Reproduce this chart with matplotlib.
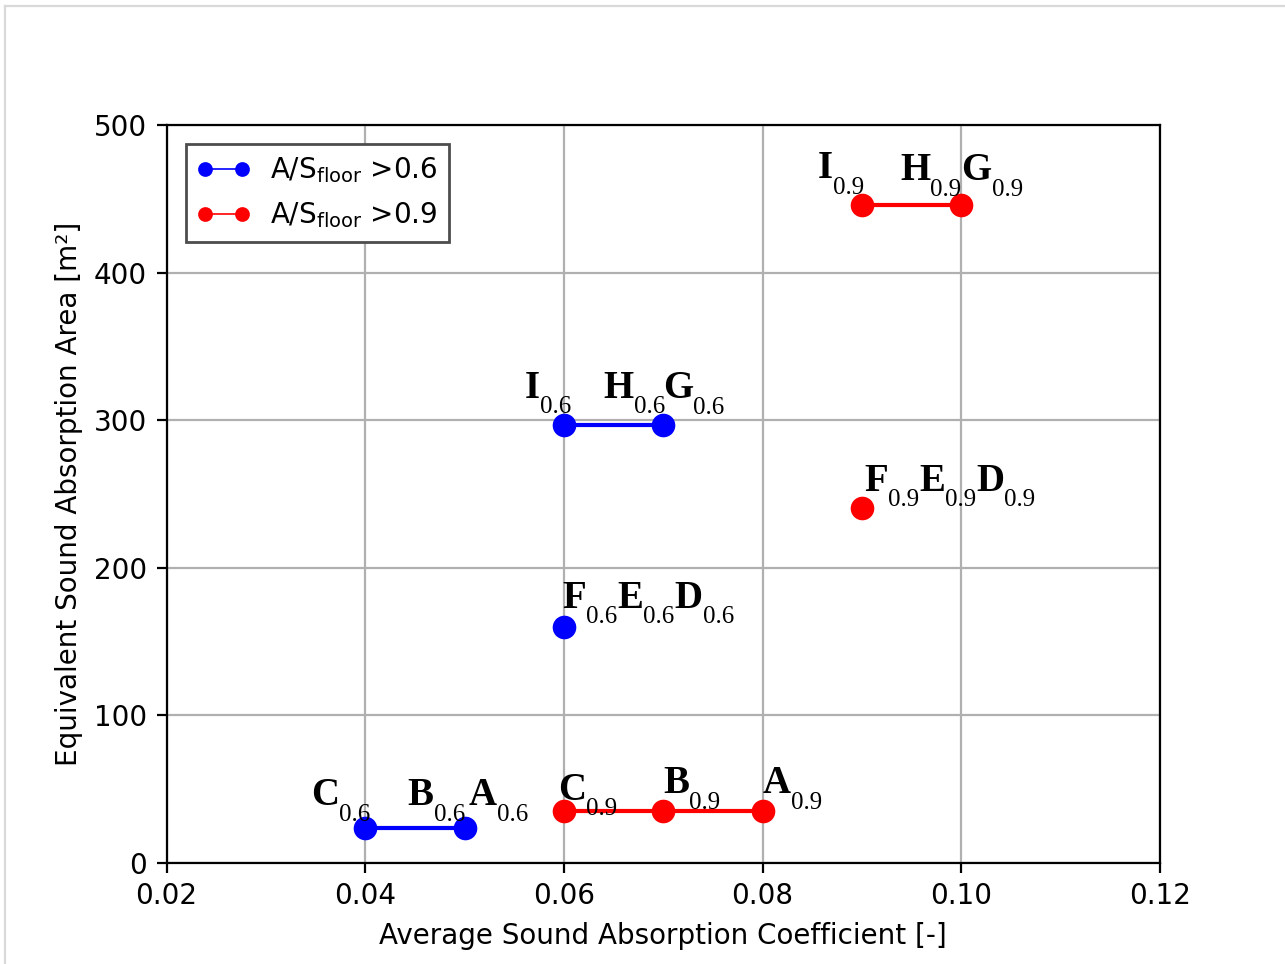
import matplotlib
matplotlib.use("Agg")
import matplotlib.pyplot as plt
from matplotlib.lines import Line2D

# average absorption coefficient / equivalent absorption area per room group
x_06 = [[0.04, 0.05], [0.06], [0.06, 0.07]]
y_06 = [[23.4, 23.4], [160.2], [297.0, 297.0]]
x_09 = [[0.06, 0.07, 0.08], [0.09], [0.09, 0.10]]
y_09 = [[35.1, 35.1, 35.1], [240.3], [445.5, 445.5]]

# (group, point, letters, dx, dy) -- offsets in points from the point
labels_06 = [
    (0, 0, "C", -19.5, 8.3),
    (0, 1, "B", -20.5, 8.3),
    (0, 1, "A", 1.5, 8.3),
    (1, 0, "FED", -0.5, 6.8),
    (2, 0, "I", -14.0, 9.7),
    (2, 1, "H", -21.5, 9.7),
    (2, 1, "G", 0.0, 9.5),
]
labels_09 = [
    (0, 0, "C", -2.0, 4.0),
    (0, 1, "B", 0.0, 6.5),
    (0, 2, "A", 0.0, 6.5),
    (1, 0, "FED", 0.8, 6.3),
    (2, 0, "I", -16.0, 9.7),
    (2, 1, "H", -22.0, 9.0),
    (2, 1, "G", 0.0, 9.0),
]

SERIF = "Liberation Serif"


def put_label(ax, xy, letters, sub, dx, dy):
    # bold letter followed by a dropped subscript, chained left to right
    base = ax.annotate(letters[0], xy, xytext=(dx, dy), textcoords="offset points",
                       fontsize=14, fontweight="bold", family=SERIF,
                       ha="left", va="baseline")
    prev = base
    for i, ch in enumerate(letters):
        if i > 0:
            prev = ax.annotate(ch, (1, 0), xycoords=(prev, base), xytext=(0, 0),
                               textcoords="offset points", fontsize=14,
                               fontweight="bold", family=SERIF,
                               ha="left", va="bottom")
        letter = prev
        prev = ax.annotate(sub, (1, 0), xycoords=(letter, base), xytext=(0, -4.1),
                           textcoords="offset points", fontsize=9, family=SERIF,
                           ha="left", va="bottom")


fig = plt.figure(figsize=(6.425, 4.82), dpi=200)
ax = fig.add_axes([166.5 / 1285, 101 / 964, (1160 - 166.5) / 1285, (863 - 125) / 964])

for xs, ys in zip(x_06, y_06):
    ax.plot(xs, ys, "o-", color="blue", lw=1.5, ms=7.5, zorder=3)
for xs, ys in zip(x_09, y_09):
    ax.plot(xs, ys, "o-", color="red", lw=1.5, ms=7.5, zorder=3)

for xs, ys, labels, sub in [(x_06, y_06, labels_06, "0.6"), (x_09, y_09, labels_09, "0.9")]:
    for g, p, letters, dx, dy in labels:
        put_label(ax, (xs[g][p], ys[g][p]), letters, sub, dx, dy)

ax.set_xlim(0.02, 0.12)
ax.set_ylim(0, 500)
ax.set_xticks([0.02, 0.04, 0.06, 0.08, 0.10, 0.12])
ax.set_xticklabels(["0.02", "0.04", "0.06", "0.08", "0.10", "0.12"])
ax.grid(True)
ax.set_xlabel("Average Sound Absorption Coefficient [-]")
ax.set_ylabel("Equivalent Sound Absorption Area [m²]")

handles = [
    Line2D([0], [0], color="blue", marker="o", lw=0.6, ms=4.3),
    Line2D([0], [0], color="red", marker="o", lw=0.6, ms=4.3),
]
ax.legend(handles, [r"A/S$_{\mathrm{floor}}$ >0.6", r"A/S$_{\mathrm{floor}}$ >0.9"],
          loc="upper left", fontsize=10, fancybox=False, edgecolor="0.3",
          framealpha=1, numpoints=2, handlelength=1.93, handletextpad=0.7,
          borderaxespad=0.7, borderpad=0.4, labelspacing=0.55)

# thin light border along the top and left edge
fig.add_artist(Line2D([5 / 1285, 1], [1 - 6 / 964, 1 - 6 / 964], color="#d9d9d9", lw=0.8))
fig.add_artist(Line2D([5 / 1285, 5 / 1285], [0, 1 - 6 / 964], color="#d9d9d9", lw=0.8))

fig.savefig("out.png", dpi=200)
